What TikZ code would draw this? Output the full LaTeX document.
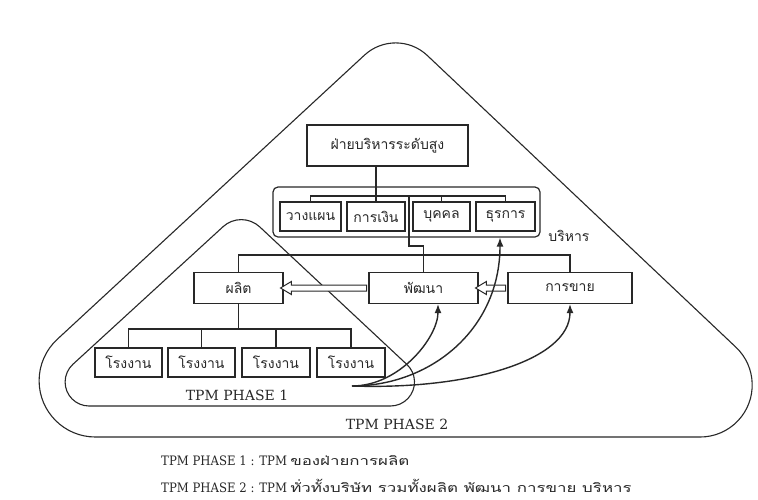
\documentclass[tikz,border=0pt]{standalone}
\usepackage{fontspec}
\setmainfont{DejaVu Serif}
\newfontfamily\thaifont[Script=Thai]{Loma}
\usetikzlibrary{arrows.meta,shapes.arrows,calc}
\definecolor{ink}{RGB}{40,40,40}
\newcommand{\footthai}[1]{\scalebox{1.35}[1]{\thaifont\fontsize{12.5}{14}\selectfont #1}}
\newcommand{\footlatin}[1]{\scalebox{0.9}[1]{\fontsize{13}{15}\selectfont #1}}
\begin{document}
\begin{tikzpicture}[x=1pt,y=-1pt,
  ln/.style={draw=ink,line width=1.1pt},
  bx/.style={draw=ink,line width=1.2pt,rectangle,inner sep=0pt,text=ink,
     font=\thaifont\fontsize{14}{16}\selectfont},
  curvearrow/.style={draw=ink,line width=1.4pt,-{Latex[length=9pt,width=7pt]}},
  openarrow/.style={single arrow,draw=ink,line width=1pt,fill=white,
     shape border rotate=180,inner sep=2.5pt,single arrow head extend=3.5pt,
     single arrow tip angle=62},
  lbl/.style={text=ink,font=\fontsize{14}{16}\selectfont},
  foot/.style={text=ink,anchor=west,inner sep=0pt}]
\path[use as bounding box,fill=white] (0,0) rectangle (758,499);

% PHASE 2 outline
\draw[ln] ($(95.4,380.7)+(90:56.3)$) arc[start angle=90,end angle=227.2,radius=56.3]
  -- ($(395.7,88.9)+(227.2:46)$) arc[start angle=227.2,end angle=313.4,radius=46]
  -- ($(700.2,385)+(313.4:52)$) arc[start angle=313.4,end angle=450,radius=52]
  -- cycle;
% PHASE 1 outline
\draw[ln] ($(89.1,382)+(90:24)$) arc[start angle=90,end angle=227.5,radius=24]
  -- ($(241.3,246.6)+(227.5:27)$) arc[start angle=227.5,end angle=313.1,radius=27]
  -- ($(390.5,382)+(313.1:24)$) arc[start angle=313.1,end angle=450,radius=24]
  -- cycle;

% top management
\node[bx,minimum width=161pt,minimum height=41pt] (top) at (387.5,145.5) {ฝ่ายบริหารระดับสูง};
\node[draw=ink,line width=1.2pt,rounded corners=5pt,minimum width=267pt,minimum height=50pt,inner sep=0pt] (admin) at (406.5,212) {};
\node[bx,minimum width=61pt,minimum height=29pt] (plan) at (310.5,216.5) {วางแผน};
\node[bx,minimum width=58pt,minimum height=29pt] (fin) at (376,216.5) {การเงิน};
\node[bx,minimum width=57pt,minimum height=29pt] (pers) at (441.5,216.5) {บุคคล};
\node[bx,minimum width=59pt,minimum height=29pt] (gen) at (505.5,216.5) {ธุรการ};
\node[lbl,font=\thaifont\fontsize{14}{16}\selectfont] (adminlbl) at (569,236) {บริหาร};

\coordinate (b1) at (0,196);
\draw[ln] (top.south -| fin.north) -- (fin.north);
\draw[ln] (plan.north) -- (plan.north |- b1) -- (gen.north |- b1) -- (gen.north);
\draw[ln] (pers.north |- b1) -- (pers.north);

% middle level
\node[bx,minimum width=89pt,minimum height=31pt] (prod) at (238.5,288) {ผลิต};
\node[bx,minimum width=109pt,minimum height=31pt] (dev) at (423.5,288) {พัฒนา};
\node[bx,minimum width=124pt,minimum height=31pt] (sales) at (570,288) {การขาย};

\coordinate (j1) at (409,196);
\coordinate (b2) at (0,255);
\draw[ln] (j1) -- (409,246) -| (dev.north);
\draw[ln] (prod.north) -- (prod.north |- b2) -- (sales.north |- b2) -- (sales.north);

\path (prod.east) -- (dev.west) node[midway,openarrow,minimum height=86pt] (a1) {};
\path (dev.east) -- (sales.west) node[midway,openarrow,minimum height=30pt] (a2) {};

% factories
\node[bx,minimum width=67pt,minimum height=29pt] (f1) at (128.5,362.5) {โรงงาน};
\node[bx,minimum width=67pt,minimum height=29pt] (f2) at (201.5,362.5) {โรงงาน};
\node[bx,minimum width=68pt,minimum height=29pt] (f3) at (276,362.5) {โรงงาน};
\node[bx,minimum width=68pt,minimum height=29pt] (f4) at (351,362.5) {โรงงาน};
\coordinate (b3) at (0,329);
\draw[ln] (prod.south) -- (prod.south |- b3);
\draw[ln] (f1.north) -- (f1.north |- b3) -- (f4.north |- b3) -- (f4.north);
\draw[ln] (f2.north |- b3) -- (f2.north);
\draw[ln] (f3.north |- b3) -- (f3.north);

% curved arrows
\coordinate (src) at (352,386);
\draw[curvearrow] (src) .. controls (400,386) and (438,337) .. ([xshift=14.5pt]dev.south);
\draw[curvearrow] (src) .. controls (430,386) and (500,330) .. ([xshift=-5.5pt]gen.south |- admin.south);
\draw[curvearrow] (src) .. controls (470,390) and (570,360) .. (sales.south);

% labels
\node[lbl] (p1) at (237,395) {TPM PHASE 1};
\node[lbl] (p2) at (397,424) {TPM PHASE 2};
\node[foot] (l1) at (161,461) {\footlatin{TPM PHASE 1 : TPM} \footthai{ของฝ่ายการผลิต}};
\node[foot] (l2) at (161,486) {\footlatin{TPM PHASE 2 : TPM} \footthai{ทั่วทั้งบริษัท รวมทั้งผลิต พัฒนา การขาย บริหาร}};
\end{tikzpicture}
\end{document}
